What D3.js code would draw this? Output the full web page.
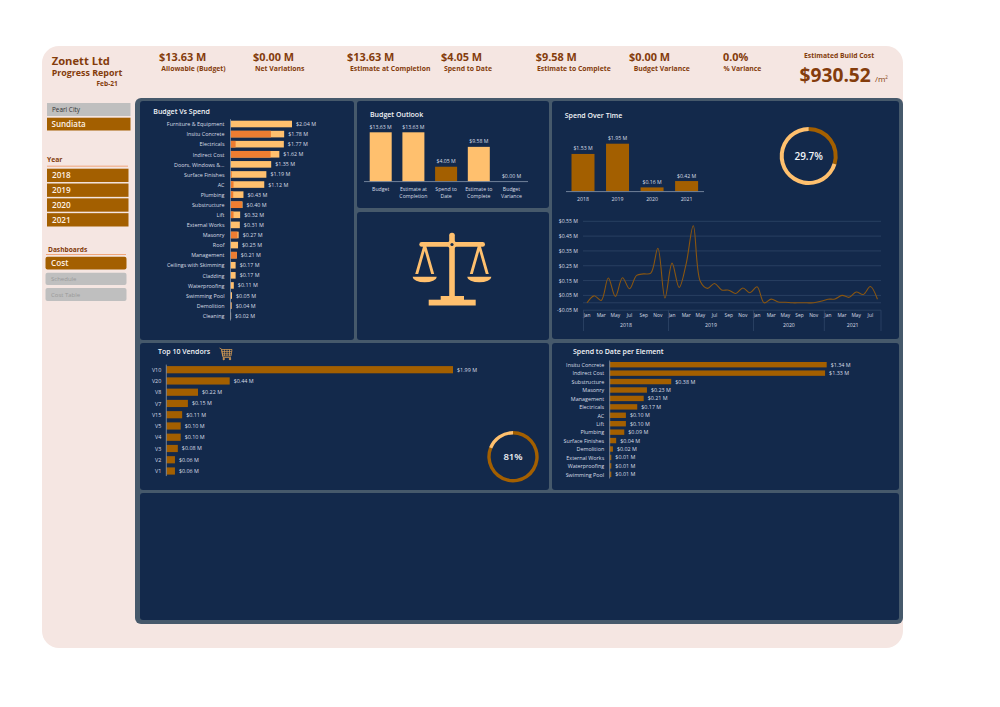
<!DOCTYPE html>
<html><head><meta charset="utf-8">
<script src="https://cdn.jsdelivr.net/npm/d3@7/dist/d3.min.js"></script>
<style>
html,body{margin:0;padding:0;background:#fff}
svg{display:block}
text{font-family:"Open Sans",sans-serif}
</style></head><body><svg id="c" width="1000" height="707"></svg>
<script>
const budgetItems=["Furniture & Equipment","Insitu Concrete","Electricals","Indirect Cost","Doors, Windows &...","Surface Finishes","AC","Plumbing","Substructure","Lift","External Works","Masonry","Roof","Management","Ceilings with Skimming","Cladding","Waterproofing","Swimming Pool","Demolition","Cleaning"];
const budgetValues=[2.04,1.78,1.77,1.62,1.35,1.19,1.12,0.43,0.40,0.32,0.31,0.27,0.25,0.21,0.17,0.17,0.11,0.05,0.04,0.02];
const budgetSpend=[0,1.34,0.17,1.33,0,0.04,0.10,0.09,0.38,0.10,0.01,0.23,0,0.21,0,0,0.01,0.01,0.02,0];
const outlookLabels=[["Budget"],["Estimate at","Completion"],["Spend to","Date"],["Estimate to","Complete"],["Budget","Variance"]];
const outlookValues=[13.63,13.63,4.05,9.58,0];
const yearLabels=["2018","2019","2020","2021"];
const yearSpend=[1.53,1.95,0.16,0.42];
const monthLabels=["Jan","Feb","Mar","Apr","May","Jun","Jul","Aug","Sep","Oct","Nov","Dec","Jan","Feb","Mar","Apr","May","Jun","Jul","Aug","Sep","Oct","Nov","Dec","Jan","Feb","Mar","Apr","May","Jun","Sep","Oct","Nov","Dec","Jan","Feb","Mar","Apr","May","Jun","Jul","Aug"];
const monthYears=[2018,2018,2018,2018,2018,2018,2018,2018,2018,2018,2018,2018,2019,2019,2019,2019,2019,2019,2019,2019,2019,2019,2019,2019,2020,2020,2020,2020,2020,2020,2020,2020,2020,2020,2021,2021,2021,2021,2021,2021,2021,2021];
const monthValues=[0,0.047,0.016,0.167,0.043,0.169,0.095,0.185,0.195,0.2,0.368,0.032,0.268,0.104,0.265,0.52,0.143,0.097,0.13,0.087,0.085,0.063,0.1,0.068,0.108,0,0.025,0.005,0.004,0,0,0,0,0.01,0.024,0.026,0.05,0.037,0.073,0.056,0.11,0.024];
const lineTicks=[-0.05,0.05,0.15,0.25,0.35,0.45,0.55];
const vendorLabels=["V10","V20","V8","V7","V15","V5","V4","V3","V2","V1"];
const vendorValues=[1.99,0.44,0.22,0.15,0.11,0.10,0.10,0.08,0.06,0.06];
const elementLabels=["Insitu Concrete","Indirect Cost","Substructure","Masonry","Management","Electricals","AC","Lift","Plumbing","Surface Finishes","Demolition","External Works","Waterproofing","Swimming Pool"];
const elementValues=[1.34,1.33,0.38,0.23,0.21,0.17,0.10,0.10,0.09,0.04,0.02,0.01,0.01,0.01];
const kpiValues=["$13.63 M","$0.00 M","$13.63 M","$4.05 M","$9.58 M","$0.00 M","0.0%"];
const kpiNames=["Allowable (Budget)","Net Variations","Estimate at Completion","Spend to Date","Estimate to Complete","Budget Variance","% Variance"];
const regionNames=["Pearl City","Sundiata"];
const dashNames=["Cost","Schedule","Cost Table"];
const donutSpend=[29.7,70.3];
const donutVendors=[81,19];

const NAVY="#13294b",DARK="#a35f00",PALE="#ffc06e",ORANGE="#ed7d31",BROWN="#843c0c",TXT="#d9dee6",AX="#8a99ad";
const svg=d3.select("#c");
const fmt=v=>"$"+v.toFixed(2)+" M";
function T(x,y,s,o={}){return svg.append("text").attr("x",x).attr("y",y).text(s)
  .attr("font-size",o.size||5.4).attr("font-weight",o.w||400).attr("fill",o.fill||TXT).attr("text-anchor",o.a||"start");}
function R(x0,y0,x1,y1,fill,r=0){return svg.append("rect").attr("x",x0).attr("y",y0).attr("width",x1-x0).attr("height",y1-y0).attr("rx",r).attr("fill",fill);}

// page background
R(42,46,903,648,"#f5e6e2",17);
// dark frame and panels
R(135,98,903,624,"#46596b",6);
[[140,101,354,340],[357,101,549,208],[357,212,549,340],[552,101,899,339],[140,343,549,490],[552,343,899,490],[140,493,899,620]]
 .forEach(p=>R(p[0],p[1],p[2],p[3],NAVY,3));

// header
T(51.7,64.8,"Zonett Ltd",{size:11.2,w:700,fill:BROWN});
T(51.7,76,"Progress Report",{size:8.9,w:700,fill:BROWN});
T(96.5,85.7,"Feb-21",{size:6.6,w:700,fill:BROWN});
const kpiX=[159,253,347,441,535.7,629,723],kpiLX=[161.3,255,350,444,537,633.7,723.5];
kpiValues.forEach((v,i)=>{T(kpiX[i],61,v,{size:10.9,w:700,fill:BROWN});
  T(kpiLX[i],70.7,kpiNames[i],{size:6.85,w:700,fill:BROWN});});
T(804,57.7,"Estimated Build Cost",{size:6.8,w:700,fill:BROWN});
T(799.5,82,"$930.52",{size:19.2,w:700,fill:BROWN});
const unit=T(875,82,"/m",{size:8,fill:BROWN});
unit.append("tspan").text("2").attr("font-size",4.5).attr("dy",-3.2);

// sidebar
R(47,103,130.5,116,"#bfbfbf");T(52,112,regionNames[0],{size:6.4,w:400,fill:"#333"});
R(47,117.7,130.5,130.5,DARK);T(51.5,127.3,regionNames[1],{size:8,w:600,fill:"#fdf1e6"});
T(47,162,"Year",{size:6.8,w:700,fill:BROWN});R(47,165.7,128,166.6,"#f0a070");
const yearY=d3.scaleBand().domain(yearLabels).range([168.7,226.5]).paddingInner(0.1).paddingOuter(0);
yearLabels.forEach(y=>{R(47,yearY(y),128.5,yearY(y)+yearY.bandwidth(),DARK);
  T(52,yearY(y)+yearY.bandwidth()/2+3,y,{size:8.2,w:600,fill:"#fdf1e6"});});
T(48,251.5,"Dashboards",{size:6.6,w:700,fill:BROWN});R(46,254,126,254.9,"#f0a070");
[[256.7,269.5,DARK,"#fdf1e6",8.2,600],[272.7,285,"#bfbfbf","#999",6,400],[288,301,"#bfbfbf","#999",6,400]].forEach((b,i)=>{
  R(45.5,b[0],126.5,b[1],b[2],2);T(51,(b[0]+b[1])/2+(i?2.1:3),dashNames[i],{size:b[4],w:b[5],fill:b[3]});});

// panel titles
[[153.3,113.5,"Budget Vs Spend"],[370,116.5,"Budget Outlook"],[564.7,118,"Spend Over Time"],[158,353.5,"Top 10 Vendors"],[573,354,"Spend to Date per Element"]]
 .forEach(t=>T(t[0],t[1],t[2],{size:7,w:600,fill:"#f2f4f7"}));

// generic horizontal bars
function hbars(o){
  const y=d3.scalePoint().domain(o.labels.map((d,i)=>i)).range([o.y0,o.y1]);
  const x=d3.scaleLinear().domain([0,o.maxV]).range([o.ax,o.ax+o.maxW]);
  const g=svg.append("g");
  g.selectAll("rect.m").data(o.values).join("rect").attr("x",o.ax).attr("y",(d,i)=>y(i)-o.h/2)
    .attr("width",d=>x(d)-o.ax).attr("height",o.h).attr("fill",o.color);
  if(o.over) g.selectAll("rect.o").data(o.over).join("rect").attr("class","o").attr("x",o.ax).attr("y",(d,i)=>y(i)-o.h/2)
    .attr("width",d=>x(d)-o.ax).attr("height",o.h).attr("fill",ORANGE);
  const axis=d3.axisLeft(y).tickSize(0).tickPadding(o.pad).tickFormat(i=>o.labels[i]);
  const ag=svg.append("g").attr("transform",`translate(${o.ax},0)`).call(axis);
  ag.select(".domain").remove();
  ag.selectAll("text").attr("font-size",o.fs).attr("fill",TXT);
  svg.append("line").attr("x1",o.ax).attr("x2",o.ax).attr("y1",o.y0-o.h/2-1.5).attr("y2",o.y1+o.h/2+1.5).attr("stroke",AX).attr("stroke-width",0.8);
  g.selectAll("text.v").data(o.values).join("text").attr("class","v").attr("x",d=>x(d)+4).attr("y",(d,i)=>y(i)+2).text(fmt)
    .attr("font-size",o.fs).attr("fill",TXT);
}
hbars({labels:budgetItems,values:budgetValues,over:budgetSpend,color:PALE,ax:230.5,maxV:2.04,maxW:61.5,y0:124,y1:315.7,h:6.6,pad:6,fs:5.4});
hbars({labels:vendorLabels,values:vendorValues,color:DARK,ax:166.3,maxV:1.99,maxW:286.7,y0:369.7,y1:471,h:7.2,pad:5,fs:5.4});
hbars({labels:elementLabels,values:elementValues,color:DARK,ax:609.7,maxV:1.34,maxW:217,y0:364.7,y1:474.3,h:5.4,pad:5.5,fs:5.4});

// vertical bars
function vbars(o){
  const x=d3.scalePoint().domain(o.values.map((d,i)=>i)).range([o.x0,o.x1]);
  const y=d3.scaleLinear().domain([0,o.maxV]).range([o.base,o.top]);
  svg.selectAll(null).data(o.values).join("rect").attr("x",(d,i)=>x(i)-o.w/2).attr("y",d=>y(d)).attr("width",o.w)
    .attr("height",d=>o.base-y(d)).attr("fill",(d,i)=>o.color(i));
  svg.selectAll(null).data(o.values).join("text").attr("x",(d,i)=>x(i)).attr("y",d=>y(d)-3.5).attr("text-anchor","middle")
    .text(fmt).attr("font-size",5.2).attr("fill",TXT);
  svg.append("line").attr("x1",o.axL).attr("x2",o.axR).attr("y1",o.base+0.3).attr("y2",o.base+0.3).attr("stroke",AX).attr("stroke-width",0.8);
  o.labels.forEach((l,i)=>[].concat(l).forEach((s,j)=>T(x(i),o.base+9.4+j*7.4,s,{a:"middle",size:5.2})));
}
vbars({labels:outlookLabels,values:outlookValues,x0:380.7,x1:511.5,base:181.3,top:132.3,maxV:13.63,w:22,axL:364,axR:528,color:i=>i===2?DARK:PALE});
vbars({labels:yearLabels,values:yearSpend,x0:583,x1:686.6,base:191.3,top:143.7,maxV:1.95,w:23,axL:566,axR:704,color:()=>DARK});

// donuts
function donut(cx,cy,r,th,vals,cols,label,size){
  const arc=d3.arc().innerRadius(r-th).outerRadius(r);
  const g=svg.append("g").attr("transform",`translate(${cx},${cy})`);
  g.selectAll("path").data(d3.pie().sort(null)(vals)).join("path").attr("d",arc).attr("fill",(d,i)=>cols[i]);
  g.append("text").attr("text-anchor","middle").attr("y",size*0.36).text(label).attr("font-size",size).attr("font-weight",600).attr("fill","#f2f4f7");
}
donut(808.7,156,29,4,donutSpend,[DARK,PALE],"29.7%",10);
donut(513,456.7,25.7,3.4,donutVendors,[DARK,PALE],"81%",9.6);

// line chart
const mx=d3.scaleBand().domain(monthLabels.map((d,i)=>i)).range([583.5,881]);
const my=d3.scaleLinear().domain([-0.05,0.55]).range([310.2,221.3]);
lineTicks.forEach(t=>{svg.append("line").attr("x1",583).attr("x2",881).attr("y1",my(t)).attr("y2",my(t)).attr("stroke","#2e4567").attr("stroke-width",0.8);
  T(578,my(t)+2,(t<0?"-$":"$")+Math.abs(t).toFixed(2)+" M",{a:"end",size:5.2});});
svg.append("line").attr("x1",583).attr("x2",881).attr("y1",my(0)).attr("y2",my(0)).attr("stroke","#2e4567").attr("stroke-width",0.8);
svg.append("path").attr("fill","none").attr("stroke","#8a5610").attr("stroke-width",1.1)
  .attr("d",d3.line().x((d,i)=>mx(i)+mx.bandwidth()/2).y(d=>my(d)).curve(d3.curveCatmullRom.alpha(0.5))(monthValues));
monthLabels.forEach((m,i)=>{if(i%2===0){T(mx(i)+mx.bandwidth()/2,316.5,m,{a:"middle",size:4.9});}});
let edges=[583.5];
yearLabels.forEach(y=>{const idx=monthYears.map((v,i)=>v===+y?i:-1).filter(i=>i>=0);
  const a=mx(idx[0]),b=mx(idx[idx.length-1])+mx.bandwidth();edges.push(b);
  T((a+b)/2,326.5,y,{a:"middle",size:5.2});});
edges.forEach(e=>svg.append("line").attr("x1",e).attr("x2",e).attr("y1",310.2).attr("y2",331).attr("stroke","#2e4567").attr("stroke-width",0.8));

// scales icon
const ic=svg.append("g").attr("fill",PALE).attr("stroke","none");
ic.append("rect").attr("x",449.2).attr("y",232.7).attr("width",5.6).attr("height",66).attr("rx",2.6);
ic.append("rect").attr("x",419.3).attr("y",242).attr("width",65.7).attr("height",4.8).attr("rx",2.4);
ic.append("rect").attr("x",440.7).attr("y",296).attr("width",23.3).attr("height",5);
ic.append("rect").attr("x",428.7).attr("y",299.7).attr("width",47).attr("height",5.8);
ic.append("circle").attr("cx",452).attr("cy",244.5).attr("r",4.4);
ic.append("circle").attr("cx",452).attr("cy",244.5).attr("r",1.6).attr("fill",NAVY);
[424.7,479.3].forEach(c=>{
  ic.append("path").attr("d",`M${c-1.5} 246 L${c-9.5} 274 L${c-6.5} 274 L${c} 251 L${c+6.5} 274 L${c+9.5} 274 L${c+1.5} 246 Z`);
  ic.append("path").attr("d",`M${c-12} 276.7 L${c+12} 276.7 A12 5.6 0 0 1 ${c-12} 276.7 Z`);
});

// cart icon
const cart=svg.append("g").attr("fill","none").attr("stroke","#e3a354").attr("stroke-width",0.7);
cart.append("path").attr("d","M219.5 348 L221.5 349 L223 357.5 L231 357.5");
cart.append("path").attr("d","M221.6 349.5 H232 L231 356 H222.7 Z M221.9 351.6 H231.7 M222.2 353.8 H231.3 M224.4 349.5 V356 M227 349.5 V356 M229.5 349.5 V356");
cart.append("circle").attr("cx",223.7).attr("cy",359).attr("r",0.8).attr("fill","#e3a354");
cart.append("circle").attr("cx",230).attr("cy",359).attr("r",0.8).attr("fill","#e3a354");
</script></body></html>
